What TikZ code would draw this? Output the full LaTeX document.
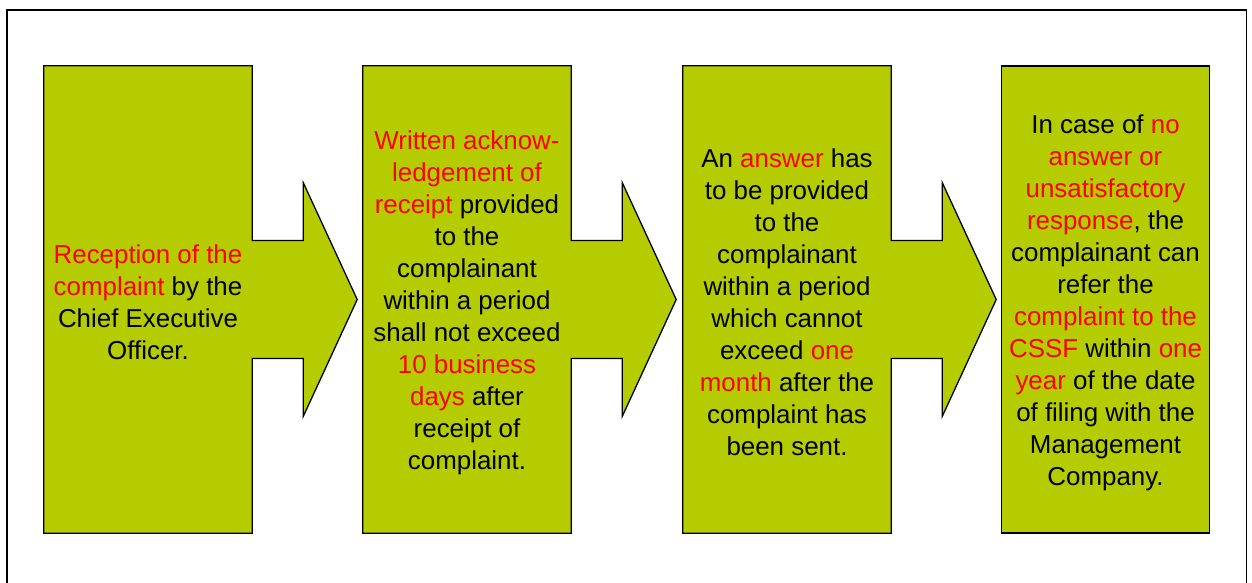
\documentclass[tikz,border=0pt]{standalone}
\usepackage{fontspec}
\setmainfont{Liberation Sans}
\usetikzlibrary{calc}
\definecolor{stagegreen}{RGB}{181,204,0}
\definecolor{alertred}{RGB}{255,0,0}
\newcommand{\hl}[1]{\textcolor{alertred}{#1}}
\newcommand{\drawStageArrow}[1]{% box name: outline of box with arrow to the right
  \draw[fill=stagegreen,line width=1.3pt,line join=miter]
    (#1.north west) -- (#1.north east) -- ($(#1.east)+(0,59)$)
    -- ($(#1.east)+(51,59)$) -- ($(#1.east)+(51,117)$) -- ($(#1.east)+(105,0)$)
    -- ($(#1.east)+(51,-117)$) -- ($(#1.east)+(51,-59)$) -- ($(#1.east)+(0,-59)$)
    -- (#1.south east) -- (#1.south west) -- cycle;
}

\begin{document}
\begin{tikzpicture}[x=1pt,y=1pt,
  stage/.style={minimum width=208pt,minimum height=467pt,inner sep=0pt},
  laststage/.style={stage,draw,fill=stagegreen,line width=1.3pt},
  stagetext/.style={inner sep=0pt,align=center,font=\fontsize{25.9pt}{32pt}\selectfont}]
\clip (0,0) rectangle (1252,-582);

% Outer frame
\draw[line width=1.3pt] (7,-600) -- (7,-10) -- (1246.5,-10) -- (1246.5,-600);

% Boxes
\node[stage] (reception) at (148,-299.5) {};
\node[stage] (acknowledge) at (467,-299.5) {};
\node[stage] (answer) at (787,-299.5) {};
\node[laststage] (referral) at (1105.5,-299.5) {};
\drawStageArrow{reception}
\drawStageArrow{acknowledge}
\drawStageArrow{answer}

% Texts
\node[stagetext] (receptiontext) at ([yshift=-3pt]reception.center) {\hl{Reception of the}\\ \hl{complaint} by the\\ Chief Executive\\ Officer.};
\node[stagetext] (acknowledgetext) at ([yshift=-3pt]acknowledge.center) {\hl{Written acknow-}\\ \hl{ledgement of}\\ \hl{receipt} provided\\ to the\\ complainant\\ within a period\\ shall not exceed\\ \hl{10 business}\\ \hl{days} after\\ receipt of\\ complaint.};
\node[stagetext] (answertext) at ([yshift=-3pt]answer.center) {An \hl{answer} has\\ to be provided\\ to the\\ complainant\\ within a period\\ which cannot\\ exceed \hl{one}\\ \hl{month} after the\\ complaint has\\ been sent.};
\node[stagetext] (referraltext) at ([yshift=-3pt]referral.center) {In case of \hl{no}\\ \hl{answer or}\\ \hl{unsatisfactory}\\ \hl{response}, the\\ complainant can\\ refer the\\ \hl{complaint to the}\\ \hl{CSSF} within \hl{one}\\ \hl{year} of the date\\ of filing with the\\ Management\\ Company.};
\end{tikzpicture}
\end{document}
